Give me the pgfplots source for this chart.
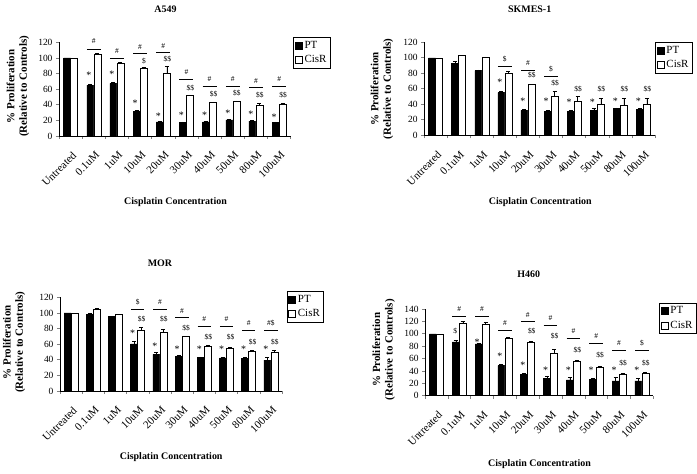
\documentclass[border=0pt]{standalone}
\usepackage{fontspec}
\setmainfont{Liberation Serif}
\usepackage{pgfplots}
\pgfplotsset{compat=1.18}

\newcommand{\ticksize}{\fontsize{9.5}{10}\selectfont}
\newcommand{\xticksize}{\fontsize{11}{12}\selectfont}
\newcommand{\labsize}{\fontsize{10}{12}\selectfont}
\newcommand{\ylabsize}{\fontsize{11}{12.5}\selectfont}
\newcommand{\St}[2]{\node[font=\fontsize{10}{10}\selectfont,inner sep=0pt,xshift=-5bp] at (axis cs:#1,#2) {*};}
\newcommand{\Dl}[3]{\node[font=\fontsize{7.5}{8}\selectfont,inner sep=0pt,xshift=4bp] at (axis cs:#1,#2) {#3};}
\newcommand{\Hl}[4]{\draw[line width=0.6bp] (axis cs:#1-0.3,#2) -- (axis cs:#1+0.3,#2);
  \node[font=\fontsize{7.5}{8}\selectfont,inner sep=0pt] at (axis cs:#1,#3) {#4};}

\pgfplotsset{
  panel/.style={
    scale only axis, anchor=south west,
    ybar=0pt, bar width=7bp,
    xmin=-0.5, xmax=9.5, ymin=0,
    axis x line*=bottom, axis y line*=left,
    axis line style={line width=0.6bp},
    tick align=outside, major tick length=3bp, minor tick length=3bp,
    xtick={0,...,9},
    xticklabels={Untreated,0.1uM,1uM,10uM,20uM,30uM,40uM,50uM,80uM,100uM},
    minor xtick={-0.5,0.5,...,9.5},
    every major x tick/.style={draw=none},
    every minor tick/.append style={line width=0.6bp},
    every major y tick/.append style={line width=0.6bp},
    xticklabel shift=8bp,
    xticklabel style={rotate=45, anchor=north east, font=\xticksize, xshift=1.5bp},
    yticklabel style={font=\ticksize},
    /pgf/number format/assume math mode=true,
    clip=false,
    legend style={anchor=north west, draw=black, line width=0.5bp, font=\xticksize,
      inner xsep=1.5bp, inner ysep=1.5bp, row sep=2bp, cells={anchor=west}},
    legend image code/.code={\draw[##1, line width=0.5bp] (0bp,-3.5bp) rectangle (7bp,3.5bp);},
    ylabel={\% Proliferation\\(Relative to Controls)},
    ylabel style={align=center, font=\ylabsize\bfseries, anchor=center},
  },
  ptbar/.style={fill=black, draw=black, line width=0.5bp,
    error bars/.cd, y dir=plus, y explicit,
    error bar style={black, line width=0.5bp},
    error mark options={rotate=90, mark size=2bp, black, line width=0.5bp}},
  crbar/.style={fill=white, draw=black, line width=0.5bp,
    error bars/.cd, y dir=plus, y explicit,
    error bar style={black, line width=0.5bp},
    error mark options={rotate=90, mark size=2bp, black, line width=0.5bp}},
}

\begin{document}
\begin{tikzpicture}
\path[use as bounding box] (0,0) rectangle (697bp,474bp);

% ---------------- A549 ----------------
\begin{axis}[panel, at={(59bp,338bp)}, width=231.7bp, height=93.7bp,
  ymax=120, ytick={0,20,...,120},
  ylabel style={at={(axis description cs:-0.177,0.53)}},
  legend style={at={(axis description cs:1.011,1.053)}}]
\addplot[ptbar] coordinates {(0,100) (1,65.3) +- (0,1) (2,67.5) +- (0,1) (3,31.2) +- (0,2) (4,18) +- (0,1) (5,17) +- (0,1) (6,18) +- (0,1) (7,20.5) +- (0,1) (8,19.2) +- (0,1) (9,17) +- (0,1)};
\addplot[crbar] coordinates {(0,100) (1,104.6) +- (0,1) (2,93) +- (0,1) (3,86.7) +- (0,1) (4,80.3) +- (0,9) (5,51.7) +- (0,1) (6,42.7) +- (0,1) (7,44) +- (0,1) (8,39.7) +- (0,2) (9,41) +- (0,1)};
\legend{PT,CisR}
\St{1}{78} \St{2}{79} \St{3}{41.8} \St{4}{25.6} \St{5}{27} \St{6}{27} \St{7}{29} \St{8}{28} \St{9}{24}
\Dl{3}{96}{\$} \Dl{4}{98.2}{\$\$} \Dl{5}{62}{\$\$} \Dl{6}{53.8}{\$\$} \Dl{7}{54.6}{\$\$} \Dl{8}{52.5}{\$\$} \Dl{9}{52.5}{\$\$}
\Hl{1}{111.4}{121}{\#} \Hl{2}{100}{109.3}{\#} \Hl{3}{106}{114.4}{\#} \Hl{4}{107.2}{115.3}{\#} \Hl{5}{72.6}{82.4}{\#}
\Hl{6}{63.2}{72.6}{\#} \Hl{7}{63.2}{72.6}{\#} \Hl{8}{62.3}{70.9}{\#} \Hl{9}{63.2}{72.6}{\#}
\end{axis}

% ---------------- SKMES-1 ----------------
\begin{axis}[panel, at={(424bp,338.7bp)}, width=231bp, height=93bp,
  ymax=120, ytick={0,20,...,120},
  ylabel style={at={(axis description cs:-0.182,0.5)}},
  legend style={at={(axis description cs:1.001,1.0)}}]
\addplot[ptbar] coordinates {(0,100) (1,92.9) +- (0,2.5) (2,83.4) +- (0,1) (3,55) +- (0,1.5) (4,32.3) +- (0,1) (5,31) +- (0,1.5) (6,31) +- (0,1.5) (7,32.3) +- (0,2.5) (8,34.4) +- (0,1) (9,33.5) +- (0,1.5)};
\addplot[crbar] coordinates {(0,100) (1,102.8) +- (0,0.5) (2,100.6) +- (0,0.5) (3,80) +- (0,2.5) (4,65.4) +- (0,0.5) (5,50) +- (0,6.4) (6,43.4) +- (0,6.5) (7,40.4) +- (0,7.3) (8,38.7) +- (0,9) (9,39.6) +- (0,8)};
\legend{PT,CisR}
\St{3}{68} \St{4}{43.4} \St{5}{43.4} \St{6}{43} \St{7}{43} \St{8}{43.4} \St{9}{43.4}
\Dl{4}{77.4}{\$\$} \Dl{5}{68}{\$\$} \Dl{6}{59.4}{\$\$} \Dl{7}{59.4}{\$\$} \Dl{8}{59.4}{\$\$} \Dl{9}{59.4}{\$\$}
\Hl{3}{88.6}{98}{\$} \Hl{4}{84.3}{93}{\#} \Hl{5}{75.7}{85}{\$}
\end{axis}

% ---------------- MOR ----------------
\begin{axis}[panel, at={(60bp,83bp)}, width=222bp, height=93.7bp,
  ymax=120, ytick={0,20,...,120},
  ylabel style={at={(axis description cs:-0.207,0.52)}},
  legend style={at={(axis description cs:1.021,1.064)}}]
\addplot[ptbar] coordinates {(0,100) (1,98.6) +- (0,0.5) (2,95.2) +- (0,0.5) (3,60.2) +- (0,3) (4,47) +- (0,2.5) (5,44) +- (0,1.5) (6,43.1) +- (0,0.5) (7,42.3) +- (0,0.5) (8,41.8) +- (0,2) (9,39.7) +- (0,3)};
\addplot[crbar] coordinates {(0,100) (1,105) +- (0,0.5) (2,97.8) +- (0,0.5) (3,78.1) +- (0,3) (4,75.6) +- (0,3) (5,69.6) +- (0,0.5) (6,57.6) +- (0,1) (7,55) +- (0,0.5) (8,50.8) +- (0,1) (9,49.1) +- (0,3)};
\legend{PT,CisR}
\St{3}{73.9} \St{4}{57.6} \St{5}{53.4} \St{6}{53.4} \St{7}{53.4} \St{8}{53.4} \St{9}{53.4}
\Dl{3}{91.8}{\$\$} \Dl{4}{91.8}{\$\$} \Dl{5}{80.3}{\$\$} \Dl{6}{69.6}{\$\$} \Dl{7}{69.6}{\$\$} \Dl{8}{63.2}{\$\$} \Dl{9}{63.2}{\$\$}
\Hl{3}{104.6}{113.6}{\$} \Hl{4}{104.6}{114.4}{\#} \Hl{5}{94}{102.5}{\#} \Hl{6}{82.4}{91.8}{\#}
\Hl{7}{82.4}{91.8}{\#} \Hl{8}{78.1}{87.5}{\#} \Hl{9}{78.1}{87.5}{\#\$}
\end{axis}

% ---------------- H460 ----------------
\begin{axis}[panel, at={(425bp,78.3bp)}, width=228.3bp, height=86.7bp,
  ymax=140, ytick={0,20,...,140},
  ylabel style={at={(axis description cs:-0.181,0.53)}},
  legend style={at={(axis description cs:1.026,1.073)}}]
\addplot[ptbar] coordinates {(0,100) (1,87) +- (0,2) (2,83.5) +- (0,1) (3,48.5) +- (0,2) (4,34) +- (0,3) (5,28) +- (0,4) (6,25.5) +- (0,4) (7,26.5) +- (0,2) (8,24) +- (0,6) (9,24) +- (0,4)};
\addplot[crbar] coordinates {(0,100) (1,117) +- (0,3) (2,115) +- (0,3) (3,93) +- (0,1) (4,86.5) +- (0,1) (5,69) +- (0,6) (6,55.5) +- (0,1) (7,46) +- (0,2) (8,34.5) +- (0,1) (9,35.5) +- (0,3)};
\legend{PT,CisR}
\node[font=\fontsize{7.5}{8}\selectfont,inner sep=0pt,xshift=-4bp] at (axis cs:1,104.5) {\$};
\St{2}{86} \St{3}{64} \St{4}{49} \St{5}{41} \St{6}{41} \St{7}{41} \St{8}{41} \St{9}{41}
\Dl{4}{104.5}{\$\$} \Dl{5}{95.8}{\$\$} \Dl{6}{73}{\$\$} \Dl{7}{65}{\$\$} \Dl{8}{52.8}{\$\$} \Dl{9}{52.8}{\$\$}
\Hl{1}{128}{140}{\#} \Hl{2}{128}{140}{\#} \Hl{3}{105.5}{117.4}{\#} \Hl{4}{120.6}{131}{\#} \Hl{5}{113.6}{126}{\#}
\Hl{6}{92.6}{104.5}{\#} \Hl{7}{84}{96.4}{\#} \Hl{8}{73.2}{85}{\#} \Hl{9}{73.2}{85}{\$}
\end{axis}

% titles and x labels
\node[font=\labsize\bfseries] at (165.5bp,464.5bp) {A549};
\node[font=\labsize\bfseries] at (529.7bp,464.5bp) {SKMES-1};
\node[font=\labsize\bfseries] at (160bp,211bp) {MOR};
\node[font=\labsize\bfseries] at (528.7bp,199.3bp) {H460};
\node[font=\labsize\bfseries] at (175.5bp,272bp) {Cisplatin Concentration};
\node[font=\labsize\bfseries] at (540.3bp,272bp) {Cisplatin Concentration};
\node[font=\labsize\bfseries] at (171.2bp,17bp) {Cisplatin Concentration};
\node[font=\labsize\bfseries] at (539.5bp,9.7bp) {Cisplatin Concentration};
\end{tikzpicture}
\end{document}
